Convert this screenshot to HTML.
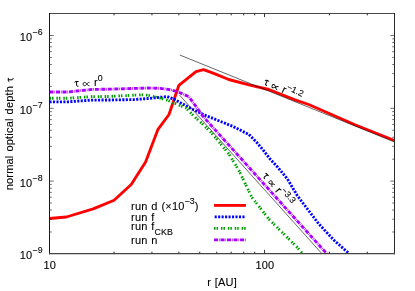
<!DOCTYPE html>
<html><head><meta charset="utf-8"><title>plot</title><style>html,body{margin:0;padding:0;background:#fff}svg{display:block;will-change:transform}</style></head><body>
<svg width="415" height="291" viewBox="0 0 415 291">
<rect width="415" height="291" fill="#fff"/>
<defs><clipPath id="c"><rect x="49.5" y="13.5" width="345.0" height="240.0"/></clipPath>
</defs>
<g clip-path="url(#c)" fill="none" stroke-linejoin="round">
<polyline points="49.5,218.5 66.3,217.0 93.2,208.9 114.1,200.3 131.2,184.5 145.6,162.0 158.0,129.3 169.0,114.5 178.9,85.3 187.9,78.1 196.0,71.6 203.5,69.6 210.4,72.2 218.1,75.2 228.7,79.5 250.0,85.2 268.8,89.5 295.0,99.8 308.7,104.5 355.0,124.7 394.5,140.5" stroke="#ff0000" stroke-width="2.85"/>
<polyline points="49.5,101.8 68.0,101.8 92.0,100.1 109.0,100.0 134.0,99.6 148.0,98.5 160.0,97.3 167.2,96.6 174.5,99.5 188.9,107.4 203.4,114.6 218.9,120.8 233.4,126.6 248.9,134.5 256.1,141.7 263.4,150.3 270.6,159.7 277.8,167.3 287.4,178.9 297.1,195.3 300.6,200.0 318.9,224.1 334.3,240.5 347.8,252.4 349.0,253.5" stroke="#0000ff" stroke-width="2.85" stroke-dasharray="2.1 1.37"/>
<polyline points="49.5,98.2 68.0,98.2 92.0,96.6 109.0,96.5 141.0,94.8 148.0,95.2 154.0,96.7 160.0,98.0 167.2,100.2 174.5,103.1 186.0,108.1 191.8,113.9 195.8,117.9 201.9,123.3 211.7,133.1 229.0,154.0 239.3,171.2 251.6,197.0 268.9,219.1 297.8,248.0 302.5,253.5" stroke="#009c00" stroke-width="2.85" stroke-dasharray="1.5 1 1.5 2.9"/>
<polyline points="49.5,92.0 68.0,92.0 92.0,89.4 109.0,89.2 148.0,88.0 160.0,88.3 169.0,89.5 177.3,91.5 188.9,96.7 196.1,106.7 203.4,116.8 325.6,252.4 326.6,253.5" stroke="#aa00ff" stroke-width="2.85" stroke-dasharray="4 0.9 0.7 0.9"/>
<line x1="179.75" y1="55.0" x2="394.5" y2="142.00" stroke="#000" stroke-width="0.6"/>
<line x1="179.5" y1="95.0" x2="321.76" y2="253.5" stroke="#000" stroke-width="0.6"/>
</g>
<g fill="none" stroke-width="2.85">
<line x1="214.05" x2="245.95" y1="205.4" y2="205.4" stroke="#ff0000"/>
<line x1="214.05" x2="245.95" y1="216.85" y2="216.85" stroke="#0000ff" stroke-dasharray="2.1 1.37" stroke-dashoffset="2.87"/>
<line x1="214.05" x2="245.95" y1="228.3" y2="228.3" stroke="#009c00" stroke-dasharray="1.5 1 1.5 2.9"/>
<line x1="214.05" x2="245.95" y1="239.8" y2="239.8" stroke="#aa00ff" stroke-dasharray="4 0.9 0.7 0.9"/>
</g>
<path d="M49.5,13.2V254.3" stroke="#1a1a1a" stroke-width="1.05" fill="none"/>
<path d="M394.5,13.2V254.3" stroke="#2a2a2a" stroke-width="1.05" fill="none"/>
<path d="M49.0,13.5H395.0" stroke="#000" stroke-width="0.72" fill="none"/>
<path d="M49.0,253.7H395.0" stroke="#444" stroke-width="1.2" fill="none"/>
<path d="M114.03,253.5v-1.9M114.03,13.5v1.9M151.95,253.5v-1.9M151.95,13.5v1.9M178.85,253.5v-1.9M178.85,13.5v1.9M199.72,253.5v-1.9M199.72,13.5v1.9M216.77,253.5v-1.9M216.77,13.5v1.9M231.19,253.5v-1.9M231.19,13.5v1.9M243.68,253.5v-1.9M243.68,13.5v1.9M254.69,253.5v-1.9M254.69,13.5v1.9M264.55,253.5v-3.6M264.55,13.5v3.6M329.37,253.5v-1.9M329.37,13.5v1.9M367.29,253.5v-1.9M367.29,13.5v1.9" stroke="#1a1a1a" stroke-width="0.9" fill="none"/>
<path d="M49.5,231.99h2.3M394.5,231.99h-2.3M49.5,219.17h2.3M394.5,219.17h-2.3M49.5,210.07h2.3M394.5,210.07h-2.3M49.5,203.01h2.3M394.5,203.01h-2.3M49.5,197.25h2.3M394.5,197.25h-2.3M49.5,192.38h2.3M394.5,192.38h-2.3M49.5,188.16h2.3M394.5,188.16h-2.3M49.5,184.43h2.3M394.5,184.43h-2.3M49.5,181.10h4.2M394.5,181.10h-4.2M49.5,159.19h2.3M394.5,159.19h-2.3M49.5,146.37h2.3M394.5,146.37h-2.3M49.5,137.27h2.3M394.5,137.27h-2.3M49.5,130.21h2.3M394.5,130.21h-2.3M49.5,124.45h2.3M394.5,124.45h-2.3M49.5,119.58h2.3M394.5,119.58h-2.3M49.5,115.36h2.3M394.5,115.36h-2.3M49.5,111.63h2.3M394.5,111.63h-2.3M49.5,108.30h4.2M394.5,108.30h-4.2M49.5,86.39h2.3M394.5,86.39h-2.3M49.5,73.57h2.3M394.5,73.57h-2.3M49.5,64.47h2.3M394.5,64.47h-2.3M49.5,57.41h2.3M394.5,57.41h-2.3M49.5,51.65h2.3M394.5,51.65h-2.3M49.5,46.78h2.3M394.5,46.78h-2.3M49.5,42.56h2.3M394.5,42.56h-2.3M49.5,38.83h2.3M394.5,38.83h-2.3M49.5,35.50h4.2M394.5,35.50h-4.2" stroke="#222" stroke-width="0.65" fill="none"/>
<g font-family="Liberation Sans, sans-serif" font-size="11" fill="#000" stroke="#000" stroke-width="0.1" letter-spacing="0.15" word-spacing="0.7">
<text x="42.7" y="259.30" text-anchor="end">10<tspan font-size="8.8" dy="-5.9">−9</tspan></text>
<text x="42.7" y="186.50" text-anchor="end">10<tspan font-size="8.8" dy="-5.9">−8</tspan></text>
<text x="42.7" y="113.70" text-anchor="end">10<tspan font-size="8.8" dy="-5.9">−7</tspan></text>
<text x="42.7" y="40.90" text-anchor="end">10<tspan font-size="8.8" dy="-5.9">−6</tspan></text>
<text x="49.7" y="269.3" text-anchor="middle">10</text>
<text x="264.85" y="269.3" text-anchor="middle">100</text>
<text x="222.0" y="286.2" text-anchor="middle">r [AU]</text>
<g transform="translate(13.2,0) rotate(-90)"><text x="-85.9" y="0" text-anchor="end" letter-spacing="0.2">normal optical depth</text><path transform="translate(-82.1,0)" d="M0.3,-3.9 C0.6,-4.7 1.0,-4.9 1.8,-4.9 L4.3,-4.9 M2.3,-4.9 L2.3,-1.2 C2.3,-0.3 3.0,0.05 4.2,-0.25" fill="none" stroke="#000" stroke-width="1.0"/></g>
<text x="131.1" y="210.05">run d (×10<tspan font-size="8.8" dy="-5.9">−3</tspan><tspan dy="5.9">)</tspan></text>
<text x="131.1" y="220.8">run f</text>
<text x="131.1" y="230.4">run f<tspan font-size="8.8" dy="4.1">CKB</tspan></text>
<text x="131.1" y="243.6">run n</text>
<g transform="translate(74.3,86.4) rotate(0)"><path transform="translate(0,0)" d="M0.3,-3.9 C0.6,-4.7 1.0,-4.9 1.8,-4.9 L4.3,-4.9 M2.3,-4.9 L2.3,-1.2 C2.3,-0.3 3.0,0.05 4.2,-0.25" fill="none" stroke="#000" stroke-width="1.0"/><path transform="translate(12.05,-2.35)" d="M3.1,-1.7 C2.0,-1.7 1.2,-0.9 0.2,0.4 C-0.6,1.3 -1.2,1.7 -1.8,1.7 C-2.7,1.7 -3.2,1.0 -3.2,0 C-3.2,-1.0 -2.7,-1.7 -1.8,-1.7 C-1.2,-1.7 -0.6,-1.3 0.2,-0.4 C1.2,0.9 2.0,1.7 3.1,1.7" fill="none" stroke="#000" stroke-width="0.9"/><text x="19.8" y="0" letter-spacing="0">r<tspan font-size="8.8" dx="0" dy="-5.4">0</tspan></text></g>
<g transform="translate(263.1,84.0) rotate(25)"><path transform="translate(0,0)" d="M0.3,-3.9 C0.6,-4.7 1.0,-4.9 1.8,-4.9 L4.3,-4.9 M2.3,-4.9 L2.3,-1.2 C2.3,-0.3 3.0,0.05 4.2,-0.25" fill="none" stroke="#000" stroke-width="1.0"/><path transform="translate(12.05,-2.35)" d="M3.1,-1.7 C2.0,-1.7 1.2,-0.9 0.2,0.4 C-0.6,1.3 -1.2,1.7 -1.8,1.7 C-2.7,1.7 -3.2,1.0 -3.2,0 C-3.2,-1.0 -2.7,-1.7 -1.8,-1.7 C-1.2,-1.7 -0.6,-1.3 0.2,-0.4 C1.2,0.9 2.0,1.7 3.1,1.7" fill="none" stroke="#000" stroke-width="0.9"/><text x="19.8" y="0" letter-spacing="0">r<tspan font-size="8.8" dx="-0.3" dy="-4.9">−1.2</tspan></text></g>
<g transform="translate(262.1,175.9) rotate(50)"><path transform="translate(0,0)" d="M0.3,-3.9 C0.6,-4.7 1.0,-4.9 1.8,-4.9 L4.3,-4.9 M2.3,-4.9 L2.3,-1.2 C2.3,-0.3 3.0,0.05 4.2,-0.25" fill="none" stroke="#000" stroke-width="1.0"/><path transform="translate(12.05,-2.35)" d="M3.1,-1.7 C2.0,-1.7 1.2,-0.9 0.2,0.4 C-0.6,1.3 -1.2,1.7 -1.8,1.7 C-2.7,1.7 -3.2,1.0 -3.2,0 C-3.2,-1.0 -2.7,-1.7 -1.8,-1.7 C-1.2,-1.7 -0.6,-1.3 0.2,-0.4 C1.2,0.9 2.0,1.7 3.1,1.7" fill="none" stroke="#000" stroke-width="0.9"/><text x="19.8" y="0" letter-spacing="0">r<tspan font-size="8.8" dx="-0.3" dy="-4.9">−3.3</tspan></text></g>
</g>
</svg>
</body></html>
